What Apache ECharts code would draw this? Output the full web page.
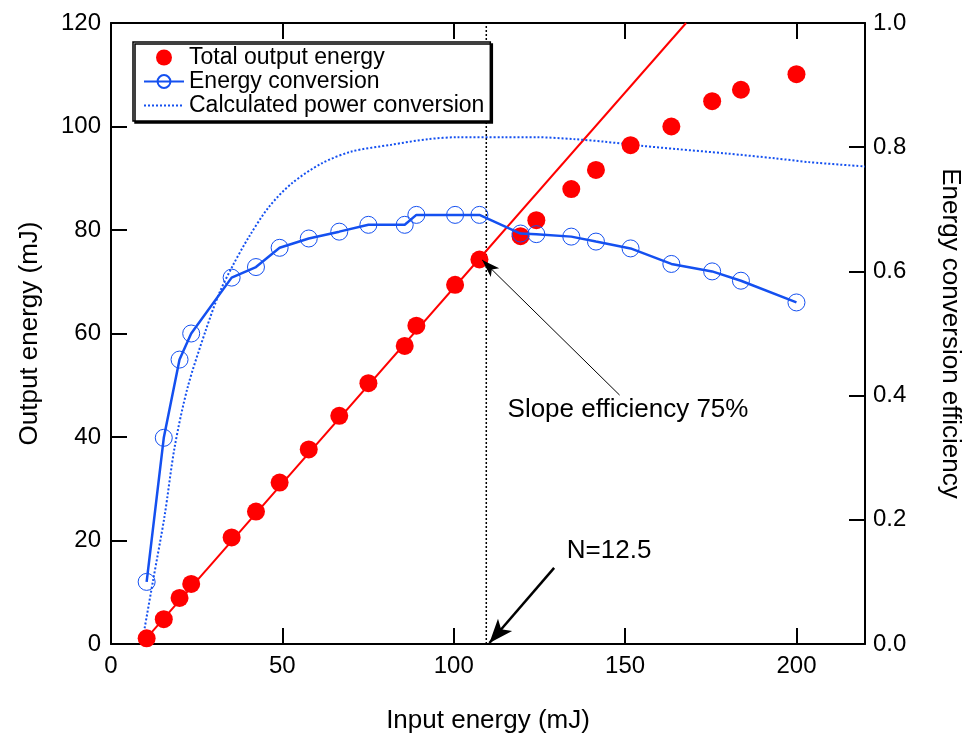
<!DOCTYPE html>
<html>
<head>
<meta charset="utf-8">
<script src="https://cdn.jsdelivr.net/npm/echarts@6/dist/echarts.min.js"></script>
<style>
  html, body {margin: 0; padding: 0; background: #fff; overflow: hidden;}
  #chart {width: 971px; height: 741px;}
</style>
</head>
<body>
<div id="chart"></div>
<script>
// input energy (mJ) of each measured point
var inputEnergy = [10.4, 15.4, 20, 23.4, 35.2, 42.3, 49.2, 57.7, 66.6, 75.1, 85.7, 89.1, 100.4, 107.5, 119.5, 124.1, 134.3, 141.5, 151.6, 163.5, 175.4, 183.8, 200]
// total output energy (mJ)
var outputEnergy = [1.1, 4.8, 8.9, 11.6, 20.6, 25.6, 31.2, 37.6, 44.1, 50.4, 57.6, 61.5, 69.4, 74.3, 78.8, 81.9, 87.9, 91.6, 96.4, 100.0, 104.9, 107.1, 110.1]
// energy conversion efficiency
var conversion = [0.10, 0.332, 0.458, 0.50, 0.59, 0.607, 0.638, 0.653, 0.664, 0.675, 0.675, 0.691, 0.691, 0.691, 0.661, 0.66, 0.656, 0.648, 0.637, 0.612, 0.60, 0.585, 0.55]
// calculated power conversion curve
var calcX = [9, 12.3, 15.6, 18.6, 22.4, 27.7, 31.6, 35.4, 40.3, 46.1, 52.8, 61.5, 70.2, 81.8, 92.5, 101.2, 114.7, 124.3, 135, 143.7, 155.3, 165, 179.4, 193.9, 203.6, 220]
var calcEff = [0, 0.103, 0.205, 0.318, 0.414, 0.506, 0.565, 0.608, 0.656, 0.704, 0.742, 0.774, 0.793, 0.804, 0.813, 0.816, 0.816, 0.816, 0.813, 0.809, 0.802, 0.797, 0.79, 0.782, 0.776, 0.769]
// slope fit line (75%)
var fitX = [10.3, 167.8]
var fitY = [1.1, 120]
// N=12.5 marker
var nX = 109.5

// annotations (data coords)
var slopeText = 'Slope efficiency 75%'
var slopeTextAt = [115.7, 45.2]
var slopeArrow = [[148.4, 48.1], [108.3, 74.2]]
var nText = 'N=12.5'
var nTextAt = [133, 18]
var nArrow = [[129.3, 14.7], [110.4, 0.2]]

var FONT = 'Liberation Sans'
var BLUE = '#1450f0'
var RED = '#ff0000'

function zip (a, b) { return a.map(function (v, i) { return [v, b[i]] }) }

var frameLine = {show: true, onZero: false, lineStyle: {color: '#000', width: 2}}
var frameTick = {show: true, inside: true, length: 16, lineStyle: {color: '#000', width: 2}}

var option = {
  animation: false,
  backgroundColor: '#fff',
  textStyle: {fontFamily: FONT, color: '#000'},
  grid: {left: 111, right: 99, top: 23, bottom: 97},
  legend: {
    orient: 'vertical',
    left: 133,
    top: 42,
    data: [
      'Total output energy',
      'Energy conversion',
      {name: 'Calculated power conversion', itemStyle: {opacity: 0}}
    ],
    itemWidth: 40,
    itemHeight: 16,
    itemGap: 1,
    padding: [4, 6, 4, 10],
    backgroundColor: '#fff',
    borderColor: '#000',
    borderWidth: 1.5,
    shadowColor: '#000',
    shadowOffsetX: 2,
    shadowOffsetY: 2,
    shadowBlur: 0,
    textStyle: {fontFamily: FONT, fontSize: 23, color: '#000', lineHeight: 22}
  },
  xAxis: [{
    type: 'value', min: 0, max: 220, interval: 50, position: 'bottom',
    name: 'Input energy (mJ)', nameLocation: 'middle', nameGap: 64,
    nameTextStyle: {fontSize: 26, fontFamily: FONT, color: '#000'},
    axisLine: frameLine,
    axisTick: frameTick,
    axisLabel: {fontSize: 24, fontFamily: FONT, color: '#000', margin: 10, showMaxLabel: false},
    splitLine: {show: false}
  }, {
    type: 'value', min: 0, max: 220, interval: 50, position: 'top',
    axisLine: frameLine,
    axisTick: frameTick,
    axisLabel: {show: false},
    splitLine: {show: false}
  }],
  yAxis: [{
    type: 'value', min: 0, max: 120, interval: 20, position: 'left',
    name: 'Output energy (mJ)', nameLocation: 'middle', nameGap: 68, nameRotate: 90,
    nameTextStyle: {fontSize: 26, fontFamily: FONT, color: '#000'},
    axisLine: frameLine,
    axisTick: frameTick,
    axisLabel: {fontSize: 24, fontFamily: FONT, color: '#000', margin: 10},
    splitLine: {show: false}
  }, {
    type: 'value', min: 0, max: 1, interval: 0.2, position: 'right',
    name: 'Energy conversion efficiency', nameLocation: 'middle', nameGap: 72, nameRotate: -90,
    nameTextStyle: {fontSize: 26, fontFamily: FONT, color: '#000'},
    axisLine: frameLine,
    axisTick: frameTick,
    axisLabel: {fontSize: 24, fontFamily: FONT, color: '#000', margin: 8,
      formatter: function (v) { return v.toFixed(1) }},
    splitLine: {show: false}
  }],
  series: [{
    name: 'fit',
    type: 'line',
    data: zip(fitX, fitY),
    symbol: 'none',
    lineStyle: {color: RED, width: 2},
    z: 2,
    markLine: {
      silent: true,
      symbol: ['none', 'arrow'],
      label: {show: false},
      data: [
        [{coord: slopeArrow[0], symbolSize: 0}, {coord: slopeArrow[1], symbolSize: [9, 18], lineStyle: {color: '#000', width: 1, type: 'solid'}}],
        [{coord: nArrow[0], symbolSize: 0}, {coord: nArrow[1], symbolSize: [14, 24], lineStyle: {color: '#000', width: 2.5, type: 'solid'}}]
      ],
      itemStyle: {color: '#000'},
      lineStyle: {color: '#000', type: 'solid'}
    }
  }, {
    name: 'N',
    type: 'line',
    data: [[nX, 0], [nX, 120]],
    symbol: 'none',
    lineStyle: {color: '#000', width: 1.5, type: [2, 2]},
    z: 1
  }, {
    name: 'Total output energy',
    type: 'scatter',
    data: zip(inputEnergy, outputEnergy),
    symbol: 'circle',
    symbolSize: 18,
    itemStyle: {color: RED, opacity: 1},
    z: 3
  }, {
    name: 'Energy conversion',
    type: 'line',
    yAxisIndex: 1,
    data: zip(inputEnergy, conversion),
    symbol: 'circle',
    symbolSize: 17,
    itemStyle: {color: 'rgba(255,255,255,0)', borderColor: BLUE, borderWidth: 1},
    lineStyle: {color: BLUE, width: 2.5},
    z: 4
  }, {
    name: 'Calculated power conversion',
    type: 'line',
    yAxisIndex: 1,
    data: zip(calcX, calcEff),
    symbol: 'none',
    smooth: 0.3,
    itemStyle: {color: BLUE},
    lineStyle: {color: BLUE, width: 2, type: [2, 2]},
    z: 3
  }, {
    name: 'notes',
    type: 'scatter',
    symbolSize: 0,
    itemStyle: {opacity: 1},
    data: [
      {value: slopeTextAt, text: slopeText},
      {value: nTextAt, text: nText}
    ],
    label: {
      show: true, position: 'inside', align: 'left', verticalAlign: 'middle',
      fontSize: 26, fontFamily: FONT, color: '#000', opacity: 1,
      formatter: function (p) { return p.data.text }
    },
    z: 5
  }]
}

var chart = echarts.init(document.getElementById('chart'))
chart.setOption(option)
</script>
</body>
</html>
